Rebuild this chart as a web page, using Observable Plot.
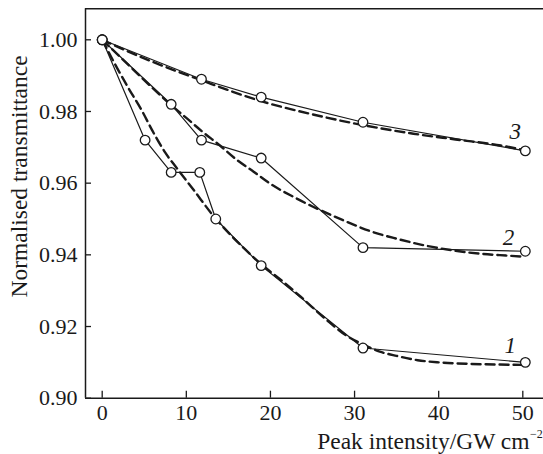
<!DOCTYPE html>
<html><head><meta charset="utf-8">
<script src="https://cdn.jsdelivr.net/npm/d3@7"></script>
<script src="https://cdn.jsdelivr.net/npm/@observablehq/plot@0.6"></script>
<style>body{margin:0;background:#fff} svg{display:block} svg text{font-family:'Liberation Serif','Times New Roman',serif}</style>
</head><body><div id="chart"></div>
<script>
// Measured points (open circles, solid lines)
const x1 = [0, 5.1, 8.2, 11.6, 13.5, 18.9, 31.0, 50.3];
const y1 = [1.000, 0.972, 0.963, 0.963, 0.950, 0.937, 0.914, 0.910];
const x2 = [0, 8.2, 11.8, 18.9, 31.0, 50.3];
const y2 = [1.000, 0.982, 0.972, 0.967, 0.942, 0.941];
const x3 = [0, 11.8, 18.9, 31.0, 50.3];
const y3 = [1.000, 0.989, 0.984, 0.977, 0.969];
// Fitted curves (dashed)
const fx1 = [0,1.5,3,4.7,6,7.5,9,11,13,15,17,19,21.5,23.6,26.5,29,31,33,35,37.5,40,43.4,47,50];
const fy1 = [1.000,0.9933,0.9870,0.9803,0.9745,0.9685,0.9638,0.9577,0.9515,0.9462,0.9415,0.9372,0.9325,0.9283,0.9222,0.9175,0.9150,0.9130,0.9118,0.9106,0.9100,0.9096,0.9094,0.9093];
const fx2 = [0,2,4,6,8,10,12,14,16,18,20,22.8,25,28.7,32,35,38,41.8,45,48,50];
const fy2 = [1.000,0.9955,0.9910,0.9865,0.9822,0.9782,0.9742,0.9705,0.9665,0.9632,0.9598,0.9561,0.9535,0.9496,0.9465,0.9445,0.9428,0.9412,0.9403,0.9398,0.9395];
const fx3 = [0,5,11.8,19,25,31,37,42,47.4,50];
const fy3 = [1.000,0.9948,0.9887,0.9828,0.9792,0.9762,0.9738,0.9722,0.9705,0.9693];
// Curve labels
const labelText = ["1", "2", "3"];
const labelX = [48.5, 48.3, 49.1];
const labelY = [0.9147, 0.9449, 0.9745];
// Ticks
const xTicks = [0, 10, 20, 30, 40, 50];
const yTicks = [0.90, 0.92, 0.94, 0.96, 0.98, 1.00];
const xDomain = [-1.985, 52.46];
const yDomain = [0.90, 1.00865];

const toRows = (xs, ys, s) => xs.map((x, i) => ({x, y: ys[i], s}));
const measured = [...toRows(x1, y1, 1), ...toRows(x2, y2, 2), ...toRows(x3, y3, 3)];
const fitted = [...toRows(fx1, fy1, 1), ...toRows(fx2, fy2, 2), ...toRows(fx3, fy3, 3)];
const labels = labelText.map((t, i) => ({t, x: labelX[i], y: labelY[i]}));

const W = 543, H = 454, mL = 85, mR = 0, mT = 8.3, mB = 56.3;
const ink = "#1a1a1a";
const serif = "'Liberation Serif', 'Times New Roman', serif";

const chart = Plot.plot({
  width: W, height: H,
  marginLeft: mL, marginRight: mR, marginTop: mT, marginBottom: mB,
  style: `font-family: ${serif}; font-size: 22px; color: ${ink}; background: #fff;`,
  x: {domain: xDomain},
  y: {domain: yDomain},
  marks: [
    Plot.axisX(xTicks, {tickSize: 0, tickPadding: 6.5, label: null, fontSize: 22, fontFamily: serif}),
    Plot.axisY(yTicks, {tickSize: 0, tickPadding: 8, label: null, tickFormat: d3.format(".2f"), fontSize: 22, fontFamily: serif}),
    Plot.tickX(xTicks, {x: d => d, insetTop: (H - mT - mB) - 7, stroke: ink, strokeWidth: 1.3}),
    Plot.tickY(yTicks, {y: d => d, insetRight: (W - mL - mR) - 6, stroke: ink, strokeWidth: 1.3}),
    Plot.ruleX([xDomain[0]], {stroke: ink, strokeWidth: 1.5}),
    Plot.ruleY([yDomain[0], yDomain[1]], {stroke: ink, strokeWidth: 1.5}),
    Plot.line(fitted, {x: "x", y: "y", z: "s", curve: "monotone-x", stroke: ink, strokeWidth: 2.4, strokeDasharray: "9,5"}),
    Plot.line(measured, {x: "x", y: "y", z: "s", stroke: ink, strokeWidth: 1.2}),
    Plot.dot(measured, {x: "x", y: "y", r: 4.8, fill: "#fff", stroke: ink, strokeWidth: 1.3}),
    Plot.text(labels, {x: "x", y: "y", text: "t", fontStyle: "italic", fontSize: 23, fontFamily: serif, fill: ink}),
    Plot.text(["Normalised transmittance"], {frameAnchor: "left", textAnchor: "middle", rotate: -90, dx: -66, dy: -27, fontSize: 23.5, fontFamily: serif, fill: ink}),
    Plot.text(["Peak intensity/GW cm"], {frameAnchor: "bottom-right", textAnchor: "end", lineAnchor: "middle", dx: -14, dy: 43.3, fontSize: 23.5, fontFamily: serif, fill: ink}),
    Plot.text(["\u22122"], {frameAnchor: "bottom-right", textAnchor: "start", lineAnchor: "middle", dx: -13.5, dy: 35.5, fontSize: 12, fontFamily: serif, fill: ink})
  ]
});
document.getElementById("chart").appendChild(chart);
</script>
</body></html>
